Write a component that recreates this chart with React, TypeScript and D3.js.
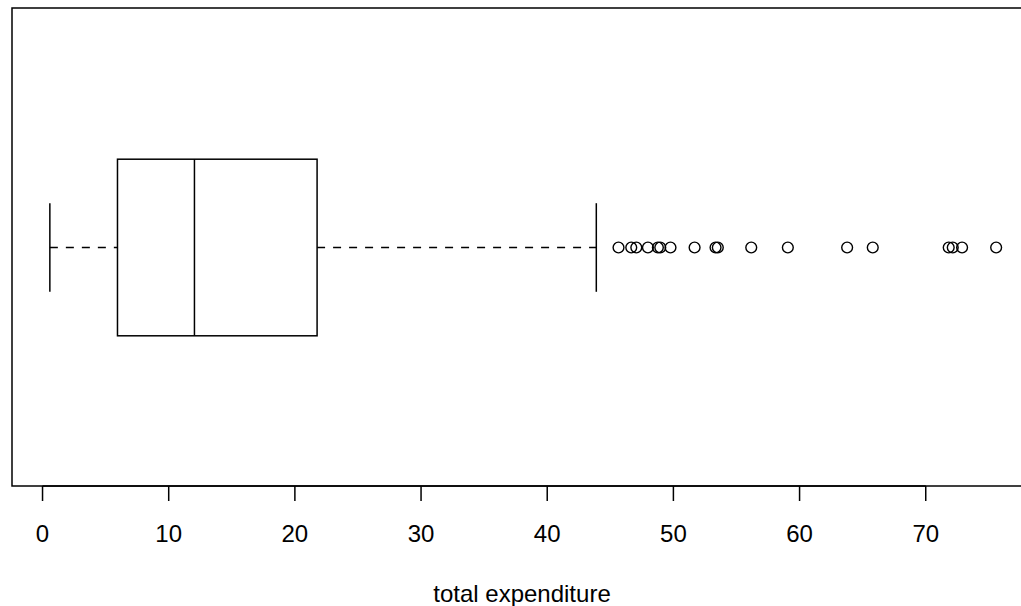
import React, { useEffect, useRef } from "react";
import * as d3 from "d3";

// five-number summary
const whiskerLow = 0.58;
const q1 = 5.94;
const median = 12.04;
const q3 = 21.76;
const whiskerHigh = 43.89;

// points beyond the upper whisker
const outliers = [
  45.65, 46.66, 47.06, 47.98, 48.77, 48.96, 49.77, 51.68, 53.34, 53.52,
  56.17, 59.07, 63.77, 65.8, 71.82, 72.14, 72.88, 75.58,
];

const tickValues = [0, 10, 20, 30, 40, 50, 60, 70];
const xLabel = "total expenditure";

const width = 1021;
const height = 606;
const plotLeft = 12;
const plotRight = 1034;
const plotTop = 8;
const plotBottom = 486;
const midY = 247.5;
const boxHalf = 88.3;
const capHalf = 44.3;
const font = "'Liberation Sans', Arial, Helvetica, sans-serif";

export default function App() {
  const ref = useRef<SVGSVGElement>(null);

  useEffect(() => {
    const svg = d3.select(ref.current);
    svg.selectAll("*").remove();

    const lo = Math.min(whiskerLow, d3.min(outliers) as number);
    const hi = Math.max(whiskerHigh, d3.max(outliers) as number);
    const pad = (hi - lo) * 0.04;
    const x = d3.scaleLinear().domain([lo - pad, hi + pad]).range([plotLeft, plotRight]);

    svg.append("rect")
      .attr("x", plotLeft).attr("y", plotTop)
      .attr("width", plotRight - plotLeft).attr("height", plotBottom - plotTop)
      .attr("fill", "none").attr("stroke", "#000").attr("stroke-width", 1.5);

    const g = svg.append("g").attr("stroke", "#000").attr("fill", "none");

    // dashed whiskers
    g.append("line")
      .attr("x1", x(whiskerLow)).attr("x2", x(q1))
      .attr("y1", midY).attr("y2", midY)
      .attr("stroke-width", 1.4).attr("stroke-dasharray", "8,8");
    g.append("line")
      .attr("x1", x(q3)).attr("x2", x(whiskerHigh))
      .attr("y1", midY).attr("y2", midY)
      .attr("stroke-width", 1.4).attr("stroke-dasharray", "8,8");

    // whisker caps
    [whiskerLow, whiskerHigh].forEach((v) => {
      g.append("line")
        .attr("x1", x(v)).attr("x2", x(v))
        .attr("y1", midY - capHalf).attr("y2", midY + capHalf)
        .attr("stroke-width", 1.5);
    });

    // box and median
    g.append("rect")
      .attr("x", x(q1)).attr("y", midY - boxHalf)
      .attr("width", x(q3) - x(q1)).attr("height", boxHalf * 2)
      .attr("fill", "#fff").attr("stroke-width", 1.5);
    g.append("line")
      .attr("x1", x(median)).attr("x2", x(median))
      .attr("y1", midY - boxHalf).attr("y2", midY + boxHalf)
      .attr("stroke-width", 1.5);

    g.selectAll("circle.out")
      .data(outliers)
      .enter()
      .append("circle")
      .attr("class", "out")
      .attr("cx", (d) => x(d))
      .attr("cy", midY)
      .attr("r", 5.4)
      .attr("stroke-width", 1.4);

    // x axis
    const axis = svg.append("g");
    axis.append("line")
      .attr("x1", x(tickValues[0])).attr("x2", x(tickValues[tickValues.length - 1]))
      .attr("y1", plotBottom).attr("y2", plotBottom)
      .attr("stroke", "#000").attr("stroke-width", 1.5);
    tickValues.forEach((t) => {
      axis.append("line")
        .attr("x1", x(t)).attr("x2", x(t))
        .attr("y1", plotBottom).attr("y2", plotBottom + 15)
        .attr("stroke", "#000").attr("stroke-width", 1.5);
      axis.append("text")
        .attr("x", x(t)).attr("y", 541.5)
        .attr("text-anchor", "middle")
        .attr("font-family", font).attr("font-size", 24)
        .text(t);
    });

    svg.append("text")
      .attr("x", (plotLeft + plotRight) / 2 - 1).attr("y", 602)
      .attr("text-anchor", "middle")
      .attr("font-family", font).attr("font-size", 24)
      .text(xLabel);
  }, []);

  return (
    <div style={{ position: "fixed", left: 0, top: 0, width, height, background: "#fff" }}>
      <svg ref={ref} width={width} height={height} style={{ display: "block" }} />
    </div>
  );
}
